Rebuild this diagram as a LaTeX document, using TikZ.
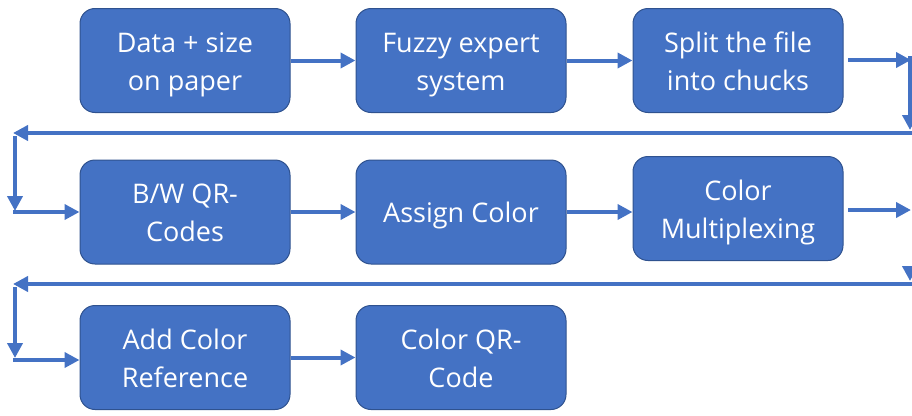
\documentclass[tikz,border=0pt]{standalone}
\usepackage{fontspec}
\setmainfont{Open Sans}
\usetikzlibrary{arrows.meta}
\definecolor{boxblue}{HTML}{4472C4}
\definecolor{boxedge}{HTML}{2F528F}
\newcommand\boxtxt[1]{\raisebox{-3pt}[\height][\depth]{\begin{tabular}{@{}c@{}}#1\end{tabular}}}
\tikzset{
  stepbox/.style={draw=boxedge, line width=1pt, fill=boxblue, rounded corners=15pt,
    minimum width=210pt, minimum height=104pt, inner sep=0pt, text=white,
    align=center, font=\fontsize{27}{38}\selectfont},
  flow/.style={draw=boxblue, line width=4pt, -{Triangle[length=15pt,width=15pt]}}
}
\begin{document}
\begin{tikzpicture}[x=1pt,y=-1pt]
\useasboundingbox (0,0) rectangle (912,415);
\node[stepbox] (b1) at (185,60.5) {\boxtxt{Data + size\\on paper}};
\node[stepbox] (b2) at (461,60.5) {\boxtxt{Fuzzy expert\\system}};
\node[stepbox] (b3) at (738,60.5) {\boxtxt{Split the file\\into chucks}};
\node[stepbox] (b4) at (185,212) {\boxtxt{B/W QR-\\Codes}};
\node[stepbox] (b5) at (461,212) {\boxtxt{Assign Color}};
\node[stepbox] (b6) at (738,208.5) {\boxtxt{Color\\Multiplexing}};
\node[stepbox] (b7) at (185,357.5) {\boxtxt{Add Color\\Reference}};
\node[stepbox] (b8) at (461,357.5) {\boxtxt{Color QR-\\Code}};
% row 1 -> row 2
\coordinate (r1a) at (848,60);
\coordinate (r1b) at (911,60);
\coordinate (r1c) at (910,56);
\coordinate (r1d) at (910,130);
\coordinate (r1e) at (912,133);
\coordinate (r1f) at (13,133);
\coordinate (r1g) at (15,136);
\coordinate (r1h) at (15,211);
\coordinate (r1i) at (13,212);
% row 2 -> row 3
\coordinate (r2a) at (848,210);
\coordinate (r2b) at (911,210);
\coordinate (r2c) at (910,270);
\coordinate (r2d) at (910,281);
\coordinate (r2e) at (912,284);
\coordinate (r2f) at (13,284);
\coordinate (r2g) at (15,287);
\coordinate (r2h) at (15,358);
\coordinate (r2i) at (13,360);
\draw[flow] (b1.east) -- (b2.west);
\draw[flow] (b2.east) -- (b3.west);
\draw[flow] (r1a) -- (r1b);
\draw[flow] (r1c) -- (r1d);
\draw[flow] (r1e) -- (r1f);
\draw[flow] (r1g) -- (r1h);
\draw[flow] (r1i) -- (b4.west);
\draw[flow] (b4.east) -- (b5.west);
\draw[flow] (b5.east) -- (b5.east -| b6.west);
\draw[flow] (r2a) -- (r2b);
\draw[flow] (r2c) -- (r2d);
\draw[flow] (r2e) -- (r2f);
\draw[flow] (r2g) -- (r2h);
\draw[flow] (r2i) -- (r2i -| b7.west);
\draw[flow] (b7.east) -- (b7.east -| b8.west);
\end{tikzpicture}
\end{document}
